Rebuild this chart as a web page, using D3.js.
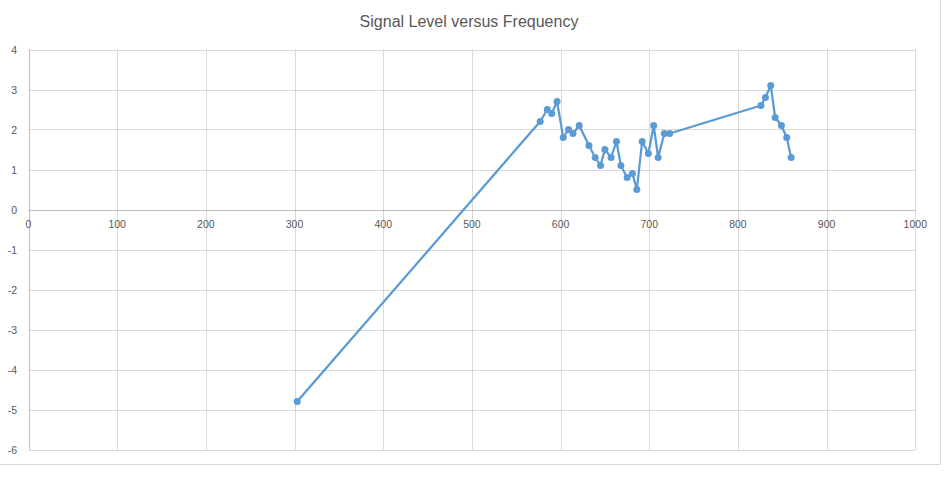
<!DOCTYPE html>
<html><head><meta charset="utf-8">
<script src="https://cdn.jsdelivr.net/npm/d3@7"></script>
<style>body{margin:0;background:#fff}svg{display:block}</style>
</head><body>
<svg id="c" width="947" height="479"></svg>
<script>
const title = "Signal Level versus Frequency";
const freq = [303,577,585,590,596,603,609,614,621,632,639,645,650,657,663,668,675,681,686,692,699,705,710,717,723,826,831,837,842,849,855,860];
const level = [-4.8,2.2,2.5,2.4,2.7,1.8,2.0,1.9,2.1,1.6,1.3,1.1,1.5,1.3,1.7,1.1,0.8,0.9,0.5,1.7,1.4,2.1,1.3,1.9,1.9,2.6,2.8,3.1,2.3,2.1,1.8,1.3];
const xTicks = [0,100,200,300,400,500,600,700,800,900,1000];
const yTicks = [-6,-5,-4,-3,-2,-1,0,1,2,3,4];

const svg = d3.select("#c");
const font = "'Liberation Sans', Arial, sans-serif";
const x = d3.scaleLinear().domain([0,1000]).range([28.5,915.3]);
const y = d3.scaleLinear().domain([-6,4]).range([449.5,49.5]);

// outer border
svg.append("line").attr("x1",940.5).attr("x2",940.5).attr("y1",0).attr("y2",464.5).attr("stroke","#d9d9d9");
svg.append("line").attr("x1",0).attr("x2",940.5).attr("y1",464.5).attr("y2",464.5).attr("stroke","#d9d9d9");

// gridlines
svg.append("g").selectAll("line").data(yTicks).join("line")
  .attr("x1",x(0)).attr("x2",x(1000)).attr("y1",d=>Math.round(y(d))+0.5).attr("y2",d=>Math.round(y(d))+0.5)
  .attr("stroke","#d9d9d9");
svg.append("g").selectAll("line").data(xTicks).join("line")
  .attr("y1",y(4)).attr("y2",y(-6)).attr("x1",d=>Math.round(x(d))+0.5).attr("x2",d=>Math.round(x(d))+0.5)
  .attr("stroke",d=>d===0?"#bfbfbf":"#d9d9d9");
// x axis line at 0
svg.append("line").attr("x1",x(0)).attr("x2",x(1000)).attr("y1",Math.round(y(0))+0.5).attr("y2",Math.round(y(0))+0.5).attr("stroke","#bfbfbf");

// labels
svg.append("g").selectAll("text").data(yTicks).join("text")
  .attr("x",17).attr("y",d=>y(d)+4).attr("text-anchor","end")
  .attr("font-family",font).attr("font-size",10.5).attr("fill","#595959").text(d=>d);
svg.append("g").selectAll("text").data(xTicks).join("text")
  .attr("x",d=>x(d)).attr("y",y(0)+18).attr("text-anchor","middle")
  .attr("font-family",font).attr("font-size",10.5).attr("fill","#595959").text(d=>d);

svg.append("text").attr("x",469).attr("y",27).attr("text-anchor","middle")
  .attr("font-family",font).attr("font-size",16).attr("fill","#595959").text(title);

const pts = freq.map((f,i)=>[f,level[i]]);
svg.append("path").datum(pts)
  .attr("d",d3.line().x(d=>x(d[0])).y(d=>y(d[1])))
  .attr("fill","none").attr("stroke","#5b9bd5").attr("stroke-width",2.25).attr("stroke-linejoin","round");
svg.append("g").selectAll("circle").data(pts).join("circle")
  .attr("cx",d=>x(d[0])).attr("cy",d=>y(d[1])).attr("r",3.5).attr("fill","#5b9bd5");
</script>
</body></html>
